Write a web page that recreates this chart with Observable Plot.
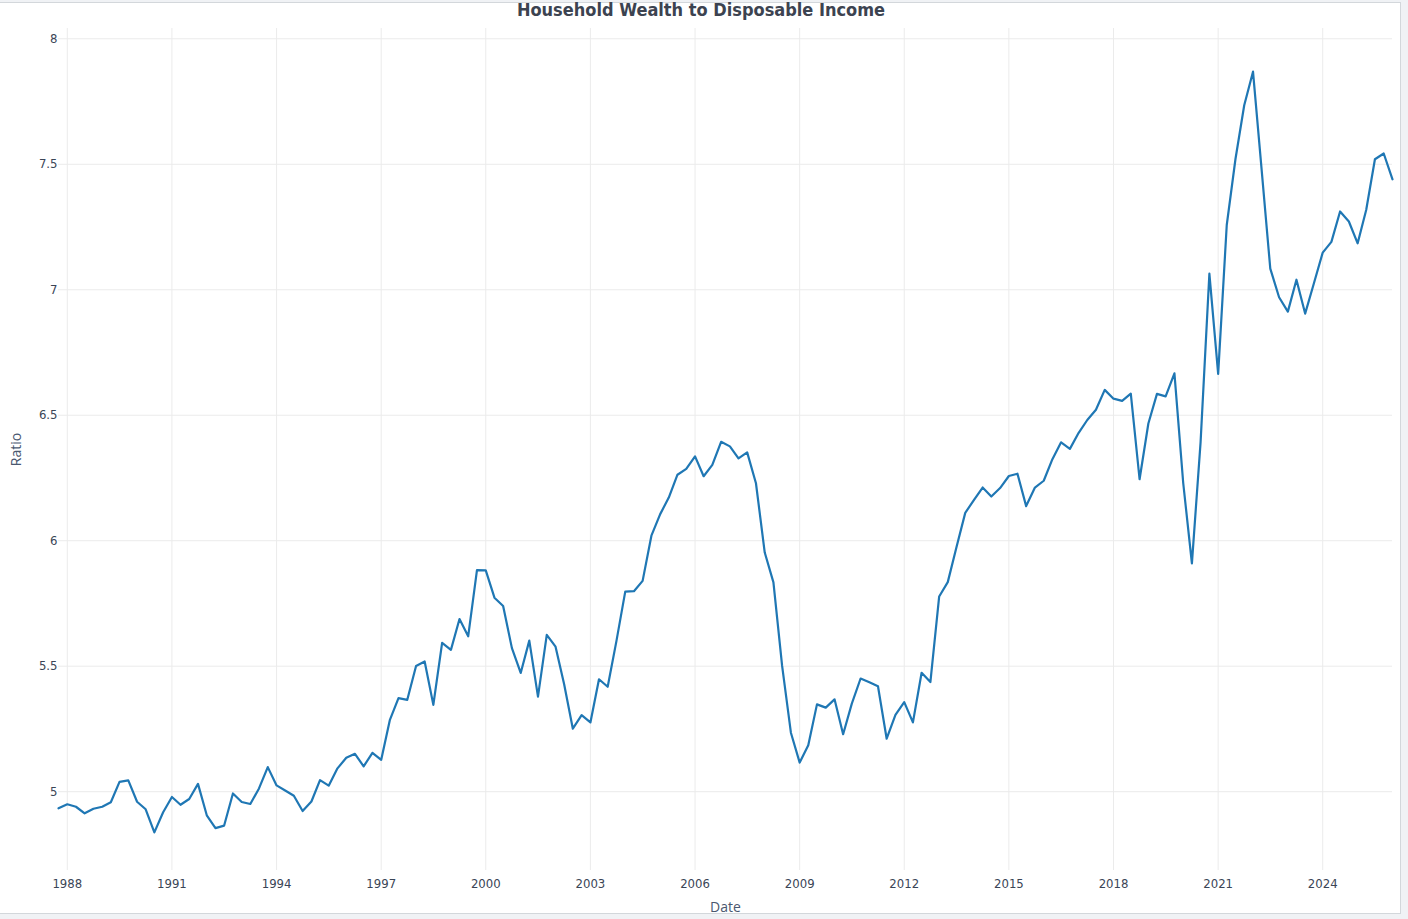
<!DOCTYPE html>
<html>
<head>
<meta charset="utf-8">
<script src="https://cdn.jsdelivr.net/npm/d3@7"></script>
<script src="https://cdn.jsdelivr.net/npm/@observablehq/plot@0.6"></script>
<style>
  html, body { margin: 0; padding: 0; background: #f0f2f5; width: 1408px; height: 919px; overflow: hidden; }
  #frame { position: absolute; left: 0; top: 2px; width: 1401px; height: 912px; background: #fff;
           border-top: 1px solid #d3d7db; border-right: 1px solid #d3d7db; border-bottom: 1px solid #d3d7db; box-sizing: border-box; }
  #title { position: absolute; left: 0; top: 0; width: 1402px; text-align: center;
           font-family: "DejaVu Sans Condensed", "DejaVu Sans", sans-serif; font-stretch: condensed; font-weight: bold;
           font-size: 18px; line-height: 20px; color: #3c4350; }
  #chart { position: absolute; left: 0; top: 0; }
</style>
</head>
<body>
<div id="frame"></div>
<div id="chart"></div>
<div id="title">Household Wealth to Disposable Income</div>
<script>
// Quarterly series, starting 1987 Q4
const firstQuarter = "1987-10-01";
const ratio = [
  4.934, 4.950, 4.940, 4.914, 4.932, 4.940, 4.958, 5.039, 5.045, 4.960,
  4.930, 4.838, 4.918, 4.979, 4.948, 4.971, 5.031, 4.906, 4.855, 4.865,
  4.993, 4.959, 4.951, 5.013, 5.098, 5.025, 5.005, 4.984, 4.923, 4.961,
  5.046, 5.024, 5.093, 5.135, 5.151, 5.101, 5.155, 5.127, 5.285, 5.373,
  5.366, 5.501, 5.519, 5.346, 5.593, 5.565, 5.688, 5.619, 5.883, 5.882,
  5.773, 5.740, 5.572, 5.473, 5.602, 5.379, 5.625, 5.578, 5.428, 5.251,
  5.305, 5.276, 5.448, 5.418, 5.601, 5.797, 5.799, 5.840, 6.020, 6.106,
  6.172, 6.263, 6.286, 6.336, 6.257, 6.302, 6.394, 6.376, 6.328, 6.352,
  6.229, 5.953, 5.834, 5.501, 5.235, 5.116, 5.185, 5.348, 5.335, 5.368,
  5.229, 5.351, 5.451, 5.436, 5.420, 5.211, 5.306, 5.357, 5.276, 5.474,
  5.437, 5.778, 5.835, 5.974, 6.111, 6.163, 6.212, 6.176, 6.210, 6.258,
  6.267, 6.138, 6.212, 6.239, 6.325, 6.392, 6.366, 6.430, 6.481, 6.522,
  6.601, 6.566, 6.557, 6.586, 6.245, 6.467, 6.585, 6.575, 6.667, 6.230,
  5.910, 6.393, 7.064, 6.665, 7.258, 7.520, 7.735, 7.869, 7.480, 7.084,
  6.970, 6.913, 7.040, 6.905, 7.026, 7.148, 7.191, 7.312, 7.272, 7.185,
  7.319, 7.520, 7.543, 7.440
];
const xTickYears = [1988, 1991, 1994, 1997, 2000, 2003, 2006, 2009, 2012, 2015, 2018, 2021, 2024];
const yTicks = [5, 5.5, 6, 6.5, 7, 7.5, 8];
const yDomain = [4.686, 8.041];

const start = new Date(firstQuarter + "T00:00:00Z");
const data = ratio.map((v, i) => ({ date: d3.utcMonth.offset(start, 3 * i), value: v }));
const xTicks = xTickYears.map(y => new Date(Date.UTC(y, 0, 1)));

const tickFont = `"DejaVu Sans Condensed", "Liberation Sans", sans-serif`;
const labelFont = `"Open Sans", "Noto Sans", sans-serif`;
const tickColor = "#3a4556";
const labelColor = "#4a5870";

const chart = Plot.plot({
  width: 1400,
  height: 915,
  marginLeft: 58,
  marginRight: 8,
  marginTop: 28,
  marginBottom: 45,
  style: { background: "transparent", fontFamily: tickFont, fontSize: "13px", color: tickColor, overflow: "visible" },
  x: { type: "utc", domain: [data[0].date, data[data.length - 1].date] },
  y: { domain: yDomain },
  marks: [
    Plot.gridX(xTicks, { stroke: "#ebebeb", strokeOpacity: 1 }),
    Plot.gridY(yTicks, { stroke: "#ebebeb", strokeOpacity: 1 }),
    Plot.axisX(xTicks, { tickSize: 0, tickPadding: 8, tickFormat: d3.utcFormat("%Y"), label: null, fill: tickColor, fontSize: 13 }),
    Plot.axisY(yTicks, { tickSize: 0, tickPadding: 1, tickFormat: d3.format("~g"), label: null, fill: tickColor, fontSize: 13 }),
    Plot.lineY(data, { x: "date", y: "value", stroke: "#1f77b4", strokeWidth: 2.2 }),
    Plot.text(["Ratio"], { text: d => d, frameAnchor: "left", textAnchor: "middle", dx: -42, rotate: -90, fontFamily: labelFont, fontSize: 14, fill: labelColor }),
    Plot.text(["Date"], { text: d => d, frameAnchor: "bottom", dy: 41, fontFamily: labelFont, fontSize: 14, fill: labelColor })
  ]
});
document.getElementById("chart").appendChild(chart);
</script>
</body>
</html>
